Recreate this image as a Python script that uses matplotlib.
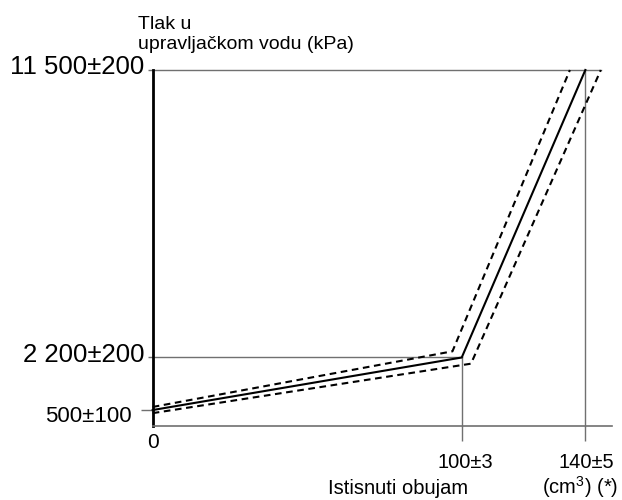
import numpy as np
import matplotlib
matplotlib.use("Agg")
import matplotlib.pyplot as plt

# nominal characteristic and tolerance band (volume cm3, pressure kPa)
x_nom = [0, 100, 140]
p_nom = [500, 2200, 11500]
x_hi = [0, 97, 135]
p_hi = [600, 2400, 11500]
x_lo = [0, 103, 145]
p_lo = [400, 2000, 11500]

y_ticks = [500, 2200, 11500]
y_labels = ["500\u00b1100", "2 200\u00b1200", "11 500\u00b1200"]
x_ticks = [0, 100, 140]
x_labels = ["0", "100\u00b13", "140\u00b15"]

SANS = ["Liberation Sans", "DejaVu Sans"]
plt.rcParams["font.family"] = SANS
plt.rcParams["mathtext.fontset"] = "custom"
plt.rcParams["mathtext.rm"] = "Liberation Sans"
plt.rcParams["mathtext.it"] = "Liberation Sans"

grey = "#707070"

fig = plt.figure(figsize=(6.22, 5), dpi=100)
ax = fig.add_axes([0.2455, 0.149, 0.7378, 0.711])
ax.set_xlim(0, 148.5)
ax.set_ylim(0, 11500)

for s in ["top", "right"]:
    ax.spines[s].set_visible(False)
ax.spines["left"].set_linewidth(2.0)
ax.spines["left"].set_color("black")
ax.spines["bottom"].set_linewidth(1.2)
ax.spines["bottom"].set_color(grey)

# reference lines
ax.plot([0, x_nom[1]], [p_nom[1], p_nom[1]], color=grey, lw=1, clip_on=False)
ax.plot([0, x_lo[2]], [p_nom[2], p_nom[2]], color=grey, lw=1, clip_on=False)
ax.plot([x_nom[1], x_nom[1]], [0, p_nom[1]], color=grey, lw=1, clip_on=False)
ax.plot([x_nom[2], x_nom[2]], [0, p_nom[2]], color=grey, lw=1, clip_on=False)

# curves
ax.plot(x_nom, p_nom, color="black", lw=1.5, clip_on=False, zorder=3)
ax.plot(x_hi, p_hi, color="black", lw=1.5, dashes=(3.2, 2.2), clip_on=False, zorder=3)
ax.plot(x_lo, p_lo, color="black", lw=1.5, dashes=(3.2, 2.2), clip_on=False, zorder=3)

# ticks
ax.set_yticks(y_ticks)
ax.set_yticklabels([])
ax.tick_params(axis="y", length=3.3, width=1, color=grey)
ax.yaxis.get_major_ticks()[0].tick1line.set_markersize(8.6)
ax.set_xticks(x_ticks)
ax.set_xticklabels([])
ax.tick_params(axis="x", length=10.8, width=1, color=grey)
ax.xaxis.get_major_ticks()[0].tick1line.set_markersize(0)

# y labels
ax.annotate(y_labels[0], xy=(0, y_ticks[0]), xytext=(-15.1, -8.4),
            textcoords="offset points", ha="right", va="baseline",
            fontsize=16, annotation_clip=False)
ax.annotate(y_labels[1], xy=(0, y_ticks[1]), xytext=(-6.2, -3.0),
            textcoords="offset points", ha="right", va="baseline",
            fontsize=18.5, annotation_clip=False)
ax.annotate(y_labels[2], xy=(0, y_ticks[2]), xytext=(-6.2, -2.9),
            textcoords="offset points", ha="right", va="baseline",
            fontsize=18.5, annotation_clip=False)

# x labels
ax.annotate(x_labels[0], xy=(x_ticks[0], 0), xytext=(0, -16.2),
            textcoords="offset points", ha="center", va="baseline",
            fontsize=15, annotation_clip=False)
ax.annotate(x_labels[1], xy=(x_ticks[1], 0), xytext=(2.3, -30.6),
            textcoords="offset points", ha="center", va="baseline",
            fontsize=14.5, annotation_clip=False)
ax.annotate(x_labels[2], xy=(x_ticks[2], 0), xytext=(1.0, -30.6),
            textcoords="offset points", ha="center", va="baseline",
            fontsize=14.5, annotation_clip=False)

# axis titles
fig.text(138 / 622, 1 - 29 / 500, "Tlak u", fontsize=14, va="baseline")
fig.text(138 / 622, 1 - 49 / 500, "upravlja\u010dkom vodu (kPa)", fontsize=14, va="baseline")
fig.text(328 / 622, 1 - 494 / 500, "Istisnuti obujam", fontsize=14.5, va="baseline")
fig.text(542 / 622, 1 - 494 / 500, r"(cm$^{3}$) (*)", fontsize=14.5, va="baseline")

fig.savefig("out.png", dpi=100)
